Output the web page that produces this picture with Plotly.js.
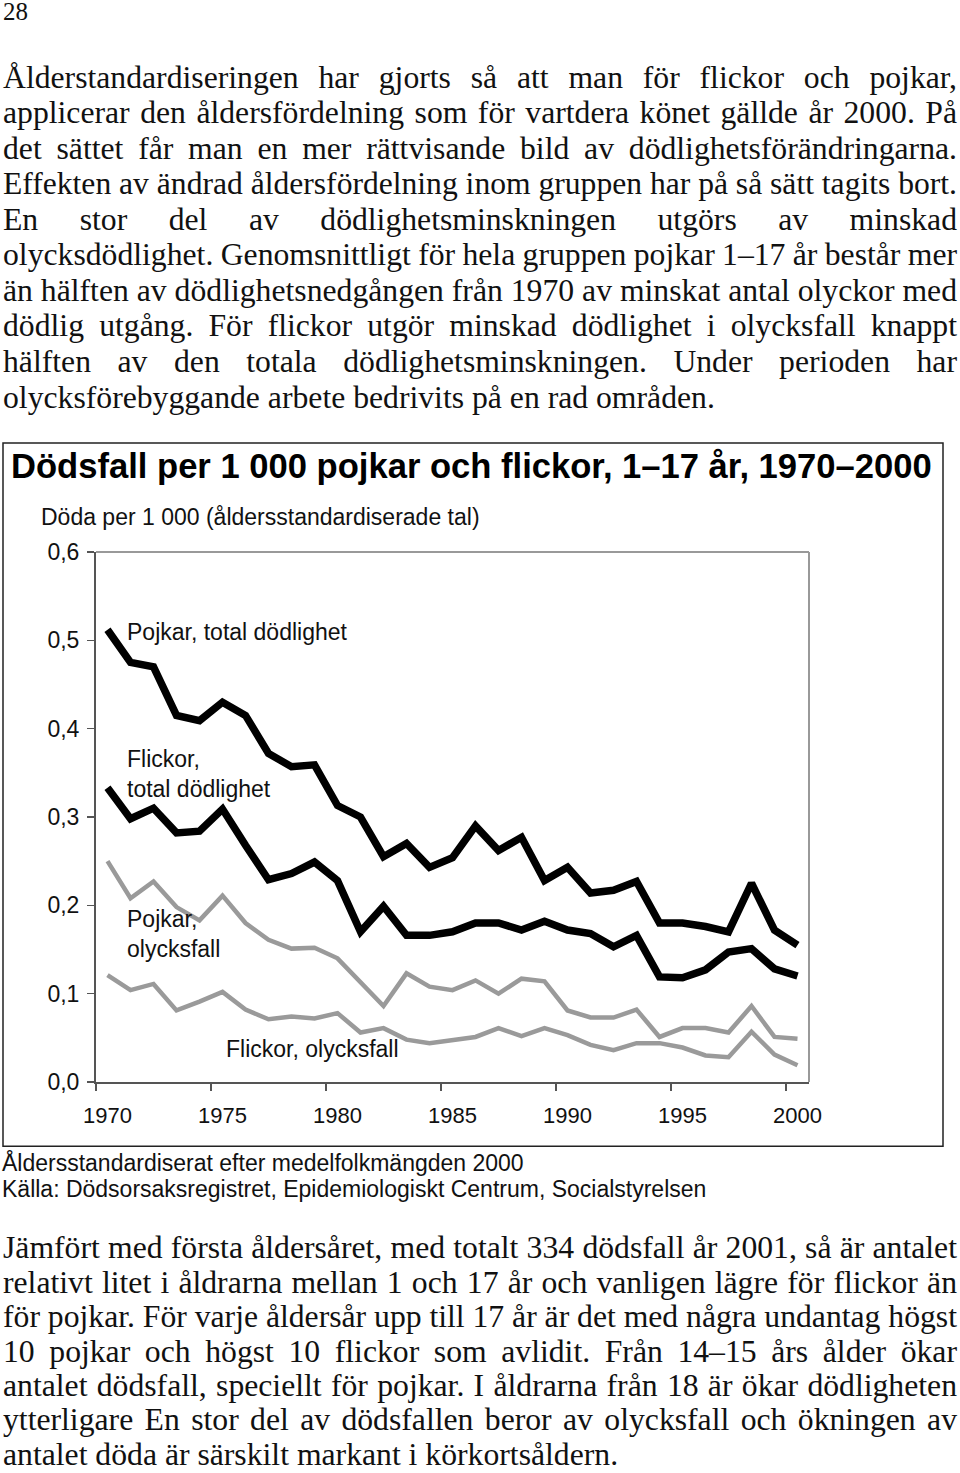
<!DOCTYPE html>
<html><head><meta charset="utf-8">
<script src="https://cdn.plot.ly/plotly-3.0.1.min.js"></script>
<style>
html,body{margin:0;padding:0;background:#fff;}
body{width:960px;height:1473px;position:relative;overflow:hidden;}
.ln{position:absolute;left:3px;width:954px;font-family:"Liberation Serif","Times New Roman",serif;font-size:31.7px;line-height:26px;height:26px;white-space:nowrap;color:#111;}
.ln span{display:inline-block;white-space:pre;}
#pnum{position:absolute;left:3px;top:-1.7px;font-family:"Liberation Serif","Times New Roman",serif;font-size:25px;line-height:28px;color:#111;}
#chart{position:absolute;left:0;top:430px;width:960px;height:790px;}
</style></head><body>
<div id="pnum">28</div>
<div id="page"></div>
<div id="chart"></div>
<script>
// ---------- text ----------
const topLines = [
 "Ålderstandardiseringen har gjorts så att man för flickor och pojkar,",
 "applicerar den åldersfördelning som för vartdera könet gällde år 2000. På",
 "det sättet får man en mer rättvisande bild av dödlighetsförändringarna.",
 "Effekten av ändrad åldersfördelning inom gruppen har på så sätt tagits bort.",
 "En stor del av dödlighetsminskningen utgörs av minskad",
 "olycksdödlighet. Genomsnittligt för hela gruppen pojkar 1–17 år består mer",
 "än hälften av dödlighetsnedgången från 1970 av minskat antal olyckor med",
 "dödlig utgång. För flickor utgör minskad dödlighet i olycksfall knappt",
 "hälften av den totala dödlighetsminskningen. Under perioden har",
 "olycksförebyggande arbete bedrivits på en rad områden."
];
const topJustify = [true,true,true,false,true,true,true,true,true,false];
const bottomLines = [
 "Jämfört med första åldersåret, med totalt 334 dödsfall år 2001, så är antalet",
 "relativt litet i åldrarna mellan 1 och 17 år och vanligen lägre för flickor än",
 "för pojkar. För varje åldersår upp till 17 år är det med några undantag högst",
 "10 pojkar och högst 10 flickor som avlidit. Från 14–15 års ålder ökar",
 "antalet dödsfall, speciellt för pojkar. I åldrarna från 18 är ökar dödligheten",
 "ytterligare En stor del av dödsfallen beror av olycksfall och ökningen av",
 "antalet döda är särskilt markant i körkortsåldern."
];
const bottomJustify = [true,true,true,true,true,true,false];

// ---------- chart data ----------
const years = [1970,1971,1972,1973,1974,1975,1976,1977,1978,1979,1980,1981,1982,1983,1984,1985,1986,1987,1988,1989,1990,1991,1992,1993,1994,1995,1996,1997,1998,1999,2000];
const pojkarTotal = [0.512,0.475,0.470,0.415,0.409,0.430,0.415,0.372,0.357,0.359,0.313,0.300,0.255,0.270,0.243,0.254,0.290,0.262,0.277,0.228,0.243,0.214,0.217,0.227,0.180,0.180,0.176,0.170,0.225,0.172,0.155];
const flickorTotal = [0.333,0.298,0.310,0.282,0.284,0.309,0.268,0.229,0.236,0.249,0.228,0.170,0.199,0.166,0.166,0.170,0.180,0.180,0.172,0.182,0.172,0.168,0.153,0.166,0.119,0.118,0.127,0.147,0.151,0.128,0.120];
const pojkarOlycksfall = [0.250,0.208,0.227,0.198,0.183,0.211,0.180,0.161,0.151,0.152,0.140,0.113,0.086,0.123,0.108,0.104,0.115,0.100,0.117,0.114,0.081,0.073,0.073,0.082,0.051,0.061,0.061,0.056,0.086,0.051,0.049];
const flickorOlycksfall = [0.121,0.104,0.111,0.081,0.091,0.102,0.082,0.071,0.074,0.072,0.078,0.056,0.061,0.048,0.044,0.047,0.051,0.061,0.052,0.061,0.053,0.042,0.036,0.044,0.044,0.039,0.030,0.028,0.057,0.031,0.019];
const xTickVals = [1970,1975,1980,1985,1990,1995,2000];
const xTickLabels = ["1970","1975","1980","1985","1990","1995","2000"];
const yTickVals = [0,0.1,0.2,0.3,0.4,0.5,0.6];
const yTickLabels = ["0,0","0,1","0,2","0,3","0,4","0,5","0,6"];
const chartTitle = "Dödsfall per 1 000 pojkar och flickor, 1–17 år, 1970–2000";
const yUnit = "Döda per 1 000 (åldersstandardiserade tal)";
const note1 = "Åldersstandardiserat efter medelfolkmängden 2000";
const note2 = "Källa: Dödsorsaksregistret, Epidemiologiskt Centrum, Socialstyrelsen";

// ---------- layout text lines ----------
const page = document.getElementById('page');
function placeLines(lines, just, firstBaseline, step){
  lines.forEach((t,i)=>{
    const d = document.createElement('div');
    d.className='ln';
    d.style.top = (firstBaseline + i*step - 23.7) + 'px';
    const s = document.createElement('span');
    s.textContent = t;
    d.appendChild(s);
    page.appendChild(d);
    const w = s.getBoundingClientRect().width;
    const n = (t.match(/ /g)||[]).length;
    if (just[i] && n>0){
      s.style.wordSpacing = ((954 - w)/n) + 'px';
    } else if (w > 954){
      s.style.transformOrigin='0 0';
      s.style.transform='scaleX(' + (954/w) + ')';
    }
  });
}
placeLines(topLines, topJustify, 88.3, 35.55);
placeLines(bottomLines, bottomJustify, 1259, 34.4);

// ---------- chart ----------
const TOPOFF = 430, HGT = 790;
const L=96, R=809, T=552, B=1081.7;
function px(x){return (x-L)/(R-L);}
function py(y){return (B-y)/(B-T);}
const SANS = "Liberation Sans, Arial, Helvetica, sans-serif";
const black = {color:'#000', width:7.5};
const gray = {color:'#9a9a9a', width:4.5};

const traces = [
  {x:years, y:flickorOlycksfall, mode:'lines', line:gray, xaxis:'x', yaxis:'y', hoverinfo:'skip'},
  {x:years, y:pojkarOlycksfall, mode:'lines', line:gray, xaxis:'x', yaxis:'y', hoverinfo:'skip'},
  {x:years, y:flickorTotal, mode:'lines', line:black, xaxis:'x2', yaxis:'y', hoverinfo:'skip'},
  {x:years, y:pojkarTotal, mode:'lines', line:black, xaxis:'x2', yaxis:'y', hoverinfo:'skip'}
];

function ann(text, x, y, size, extra){
  return Object.assign({text:text, xref:'paper', yref:'paper', x:px(x), y:py(y), xanchor:'left', yanchor:'middle', align:'left', showarrow:false, font:{family:SANS, size:size, color:'#111'}}, extra||{});
}

const layout = {
  width:960, height:HGT,
  margin:{l:L, r:960-R, t:T-TOPOFF, b:(TOPOFF+HGT)-B, pad:0},
  paper_bgcolor:'rgba(0,0,0,0)', plot_bgcolor:'rgba(0,0,0,0)',
  showlegend:false,
  xaxis:{range:[1969.5,2000.5], tickmode:'array', tickvals:xTickVals.map(v=>v-0.5), showticklabels:false,
         ticks:'outside', ticklen:7, tickwidth:1.5, tickcolor:'#555', showline:true, linecolor:'#555', linewidth:2,
         showgrid:false, zeroline:false, fixedrange:true},
  xaxis2:{range:[1969.5,2000.5], overlaying:'x', anchor:'y', side:'bottom', tickmode:'array', tickvals:xTickVals, ticktext:xTickLabels,
         ticks:'', showline:false, showgrid:false, zeroline:false, ticklabelstandoff:18,
         tickfont:{family:SANS, size:22, color:'#111'}, fixedrange:true},
  yaxis:{range:[0,0.6], tickmode:'array', tickvals:yTickVals, ticktext:yTickLabels, ticks:'outside', ticklen:7, tickwidth:1.5,
         tickcolor:'#555', showline:true, linecolor:'#555', linewidth:2, showgrid:false, zeroline:false, ticklabelstandoff:3,
         tickfont:{family:SANS, size:23, color:'#111'}, fixedrange:true},
  shapes:[
    {type:'line', xref:'paper', yref:'paper', x0:0, x1:1, y0:1, y1:1, line:{color:'#999', width:2}},
    {type:'line', xref:'paper', yref:'paper', x0:1, x1:1, y0:0, y1:1, line:{color:'#999', width:2}},
    {type:'rect', xref:'paper', yref:'paper', x0:px(3), x1:px(943), y0:py(1146), y1:py(443), line:{color:'#222', width:1.5}}
  ],
  annotations:[
    ann(chartTitle, 9, 466, 34.6, {font:{family:SANS, size:34.6, color:'#000', weight:'bold'}}),
    ann(yUnit, 39, 517, 23),
    ann("Pojkar, total dödlighet", 125, 632, 23),
    ann("Flickor,<br>total dödlighet", 125, 774, 23),
    ann("Pojkar,<br>olycksfall", 125, 934, 23),
    ann("Flickor, olycksfall", 224, 1049, 23),
    ann(note1, 0, 1162, 23),
    ann(note2, 0, 1189, 23)
  ]
};
Plotly.newPlot('chart', traces, layout, {staticPlot:true, displayModeBar:false});
</script>
</body></html>
